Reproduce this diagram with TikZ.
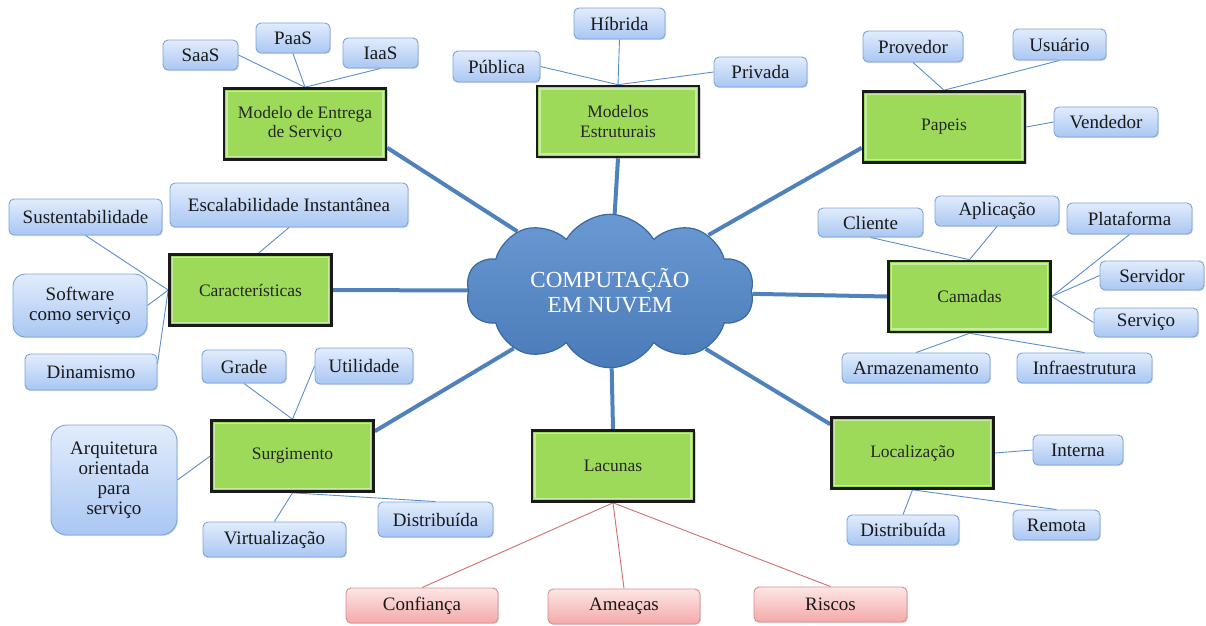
\documentclass[tikz,border=0pt]{standalone}
\usepackage{fontspec}
\setmainfont{Liberation Serif}
\usetikzlibrary{shapes.symbols,shadows,backgrounds}

\definecolor{boxgreen}{HTML}{9DDA5A}
\definecolor{boxframe}{HTML}{1A1A1A}
\definecolor{leaftop}{HTML}{E2ECFC}
\definecolor{leafbot}{HTML}{A9C7F3}
\definecolor{leafline}{HTML}{7BA3DA}
\definecolor{risktop}{HTML}{FDE6E6}
\definecolor{riskbot}{HTML}{F4A9A9}
\definecolor{riskline}{HTML}{D98C8C}
\definecolor{cloudtop}{HTML}{6A99D2}
\definecolor{cloudbot}{HTML}{4A7BB9}
\definecolor{cloudline}{HTML}{3A68A3}
\definecolor{spokeblue}{HTML}{4F81BD}
\definecolor{linkblue}{HTML}{5B8DCB}
\definecolor{linkred}{HTML}{D06E6E}

\begin{document}
\begin{tikzpicture}[x=1pt,y=-1pt,
  hubbox/.style={rectangle, draw=boxframe, line width=2.6pt, fill=boxgreen,
    minimum width=162pt, minimum height=71pt, inner sep=2pt, align=center,
    font=\fontsize{17.5}{19.5}\selectfont, text=black!85,
    drop shadow={shadow xshift=1.5pt, shadow yshift=-1.5pt, opacity=0.35},
    path picture={\draw[white, opacity=0.45, line width=1.2pt]
      ([shift={(3pt,-3pt)}]path picture bounding box.north west) rectangle
      ([shift={(-3pt,3pt)}]path picture bounding box.south east);}},
  leaf/.style={rectangle, rounded corners=5pt, draw=leafline, line width=0.9pt,
    top color=leaftop, bottom color=leafbot, inner sep=0pt, align=center,
    font=\fontsize{19}{20}\selectfont, text=black!90,
    drop shadow={shadow xshift=1pt, shadow yshift=-1.2pt, opacity=0.25}},
  risk/.style={leaf, draw=riskline, top color=risktop, bottom color=riskbot},
  thinlink/.style={draw=linkblue, line width=0.9pt},
  redlink/.style={draw=linkred, line width=0.9pt},
  spoke/.style={draw=spokeblue, line width=4pt}
]
\useasboundingbox (0,0) rectangle (1206,625);

% centre
\node[cloud, cloud puffs=10, cloud puff arc=120, aspect=2,
  minimum width=288pt, minimum height=142pt, draw=cloudline, line width=1.2pt,
  top color=cloudtop, bottom color=cloudbot, text=white, align=center,
  font=\fontsize{23}{25}\selectfont] (cloud) at (610,291) {COMPUTAÇÃO\\EM NUVEM};

% main topics
\node[hubbox] (me)   at (305,124)   {Modelo de Entrega\\de Serviço};
\node[hubbox] (mest) at (618,121.5) {Modelos\\Estruturais};
\node[hubbox] (pap)  at (944,127)   {Papeis};
\node[hubbox] (car)  at (250.5,290) {Características};
\node[hubbox] (cam)  at (969.5,296.5) {Camadas};
\node[hubbox] (sur)  at (292.5,456) {Surgimento};
\node[hubbox] (lac)  at (613,466)   {Lacunas};
\node[hubbox] (loc)  at (912.5,453) {Localização};

% Modelo de Entrega de Serviço
\node[leaf, minimum width=75pt, minimum height=30pt] (saas) at (200.5,55) {SaaS};
\node[leaf, minimum width=74pt, minimum height=30pt] (paas) at (293,38) {PaaS};
\node[leaf, minimum width=75pt, minimum height=30pt] (iaas) at (380.5,53) {IaaS};

% Modelos Estruturais
\node[leaf, minimum width=91pt, minimum height=31pt] (hib)  at (619.5,23.5) {Híbrida};
\node[leaf, minimum width=87pt, minimum height=31pt] (pub)  at (496.5,66.5) {Pública};
\node[leaf, minimum width=93pt, minimum height=30pt] (priv) at (760.5,72) {Privada};

% Papeis
\node[leaf, minimum width=100pt, minimum height=31pt] (prov) at (913,46.5) {Provedor};
\node[leaf, minimum width=93pt, minimum height=31pt] (usu)  at (1059.5,44.5) {Usuário};
\node[leaf, minimum width=104pt, minimum height=30pt] (vend) at (1106,122) {Vendedor};

% Características
\node[leaf, minimum width=238pt, minimum height=44pt] (esc)  at (289,205) {Escalabilidade Instantânea};
\node[leaf, minimum width=153pt, minimum height=36pt] (sust) at (85.5,217) {Sustentabilidade};
\node[leaf, rounded corners=12pt, minimum width=134pt, minimum height=63pt] (soft) at (80,305.5) {Software\\como serviço};
\node[leaf, minimum width=132pt, minimum height=36pt] (din)  at (91,372) {Dinamismo};

% Surgimento
\node[leaf, minimum width=84pt, minimum height=33pt] (grade) at (244,366.5) {Grade};
\node[leaf, minimum width=98pt, minimum height=36pt] (util)  at (364,366) {Utilidade};
\node[leaf, rounded corners=16pt, minimum width=126pt, minimum height=110pt] (arq) at (114,480) {Arquitetura\\orientada\\para\\serviço};
\node[leaf, minimum width=143pt, minimum height=35pt] (virt)  at (274.5,539.5) {Virtualização};
\node[leaf, minimum width=115pt, minimum height=35pt] (dists) at (435.5,519.5) {Distribuída};

% Camadas
\node[leaf, minimum width=105pt, minimum height=29pt] (cli)  at (870.5,222.5) {Cliente};
\node[leaf, minimum width=124pt, minimum height=30pt] (apl)  at (997,211) {Aplicação};
\node[leaf, minimum width=125pt, minimum height=31pt] (plat) at (1129.5,218.5) {Plataforma};
\node[leaf, minimum width=104pt, minimum height=29pt] (serv) at (1152,275.5) {Servidor};
\node[leaf, minimum width=104pt, minimum height=29pt] (svc)  at (1146,322.5) {Serviço};
\node[leaf, minimum width=148pt, minimum height=30pt] (arm)  at (916,368) {Armazenamento};
\node[leaf, minimum width=135pt, minimum height=30pt] (inf)  at (1084.5,368) {Infraestrutura};

% Localização
\node[leaf, minimum width=90pt, minimum height=30pt]  (int)   at (1078,450) {Interna};
\node[leaf, minimum width=112pt, minimum height=30pt] (distl) at (903,530) {Distribuída};
\node[leaf, minimum width=87pt, minimum height=30pt]  (rem)   at (1056.5,525) {Remota};

% Lacunas
\node[risk, minimum width=152pt, minimum height=35pt] (conf) at (422,605.5) {Confiança};
\node[risk, minimum width=152pt, minimum height=35pt] (ame)  at (624,606.5) {Ameaças};
\node[risk, minimum width=153pt, minimum height=35pt] (ris)  at (830.5,604.5) {Riscos};

\begin{scope}[on background layer]
  % spokes from the cloud
  \draw[spoke] (cloud) -- ([yshift=13pt]me.south east);
  \draw[spoke] (cloud) -- (mest.south);
  \draw[spoke] (cloud) -- ([yshift=16pt]pap.south west);
  \draw[spoke] (cloud) -- (car.east);
  \draw[spoke] (cloud) -- (cam.west);
  \draw[spoke] (cloud) -- ([yshift=-12pt]sur.north east);
  \draw[spoke] (cloud) -- (lac.north);
  \draw[spoke] (cloud) -- ([yshift=-8pt]loc.north west);

  % sub-topic links
  \draw[thinlink] (saas.east) -- (me.north);
  \draw[thinlink] (paas.south) -- (me.north);
  \draw[thinlink] (iaas.south) -- (me.north);

  \draw[thinlink] (hib.south) -- (mest.north);
  \draw[thinlink] (pub.east) -- (mest.north);
  \draw[thinlink] (priv.west) -- (mest.north);

  \draw[thinlink] (prov.south) -- (pap.north);
  \draw[thinlink] (usu.south) -- (pap.north);
  \draw[thinlink] (vend.west) -- (pap.east);

  \draw[thinlink] (esc.south) -- ([xshift=8pt]car.north);
  \draw[thinlink] (sust.south) -- (car.west);
  \draw[thinlink] (soft.east) -- (car.west);
  \draw[thinlink] ([yshift=8pt]din.east) -- (car.west);

  \draw[thinlink] (grade.south) -- (sur.north);
  \draw[thinlink] (util.west) -- (sur.north);
  \draw[thinlink] (arq.east) -- (sur.west);
  \draw[thinlink] (virt.north) -- (sur.south);
  \draw[thinlink] (dists.north) -- (sur.south);

  \draw[thinlink] (cli.south) -- (cam.north);
  \draw[thinlink] (apl.south) -- (cam.north);
  \draw[thinlink] (plat.south) -- (cam.east);
  \draw[thinlink] (serv.west) -- (cam.east);
  \draw[thinlink] (svc.west) -- (cam.east);
  \draw[thinlink] (arm.north) -- (cam.south);
  \draw[thinlink] (inf.north) -- (cam.south);

  \draw[thinlink] (int.west) -- (loc.east);
  \draw[thinlink] (distl.north) -- (loc.south);
  \draw[thinlink] (rem.north) -- (loc.south);

  \draw[redlink] (conf.north) -- (lac.south);
  \draw[redlink] (ame.north) -- (lac.south);
  \draw[redlink] (ris.north) -- (lac.south);
\end{scope}
\end{tikzpicture}
\end{document}
